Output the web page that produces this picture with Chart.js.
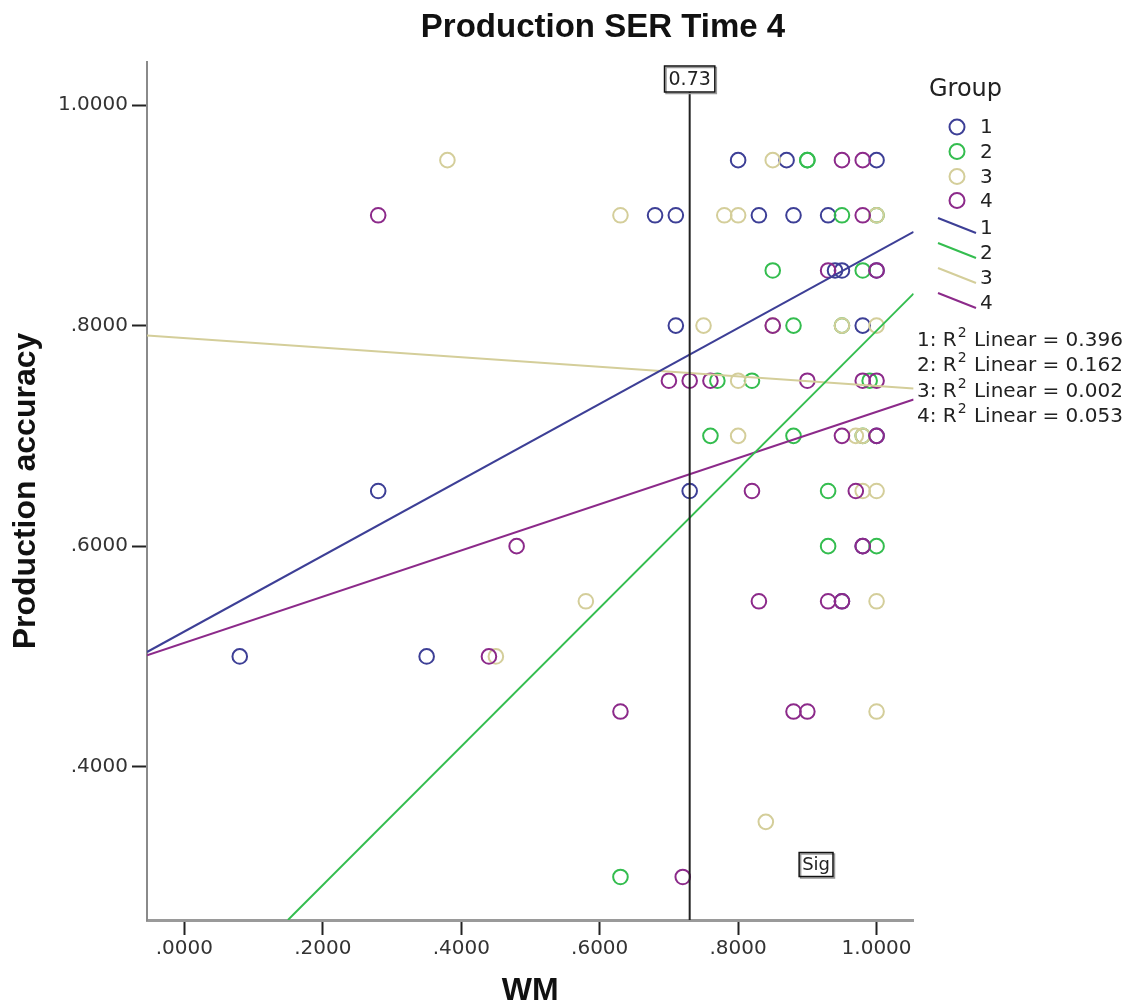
<!DOCTYPE html>
<html><head><meta charset="utf-8">
<script src="https://cdn.jsdelivr.net/npm/chart.js@4"></script>
<style>html,body{margin:0;padding:0;background:#fff}canvas{display:block}</style>
</head><body>
<canvas id="c" width="1139" height="1008"></canvas>
<script>
// ---- text ----
const chartTitle = 'Production SER Time 4';
const xAxisTitle = 'WM';
const yAxisTitle = 'Production accuracy';
const legendTitle = 'Group';
const groupNames = ['1', '2', '3', '4'];
const rSquared = ['0.396', '0.162', '0.002', '0.053'];
const xTickValues = [0, 0.2, 0.4, 0.6, 0.8, 1.0];
const xTickLabels = ['.0000', '.2000', '.4000', '.6000', '.8000', '1.0000'];
const yTickValues = [0.4, 0.6, 0.8, 1.0];
const yTickLabels = ['.4000', '.6000', '.8000', '1.0000'];
const refLineX = 0.73;
const refLineLabel = '0.73';
const sigLabel = 'Sig';
const sigX = 0.9126, sigY = 0.3113;

// ---- points (WM, accuracy) by group ----
const g1X = [0.80,0.87,1.00, 0.68,0.71,0.83,0.88,0.93, 0.94,0.95,1.00, 0.71,0.98, 1.00, 0.28,0.73, 0.98, 0.95, 0.08,0.35];
const g1Y = [0.95,0.95,0.95, 0.90,0.90,0.90,0.90,0.90, 0.85,0.85,0.85, 0.80,0.80, 0.70, 0.65,0.65, 0.60, 0.55, 0.50,0.50];

const g2X = [0.90,0.90, 0.95,1.00, 0.85,0.98, 0.88,0.95, 0.77,0.82,0.99, 0.76,0.88,0.98, 0.93, 0.93,1.00, 0.63];
const g2Y = [0.95,0.95, 0.90,0.90, 0.85,0.85, 0.80,0.80, 0.75,0.75,0.75, 0.70,0.70,0.70, 0.65, 0.60,0.60, 0.30];

const g3X = [0.38,0.85, 0.63,0.78,0.80,1.00, 0.75,0.85,0.95,1.00, 0.80, 0.80,0.97,0.98, 0.98,1.00, 0.58,1.00, 0.45, 1.00, 0.84];
const g3Y = [0.95,0.95, 0.90,0.90,0.90,0.90, 0.80,0.80,0.80,0.80, 0.75, 0.70,0.70,0.70, 0.65,0.65, 0.55,0.55, 0.50, 0.45, 0.35];

const g4X = [0.95,0.98, 0.28,0.98, 0.93,1.00, 0.85, 0.70,0.73,0.76,0.90,0.98,1.00, 0.95,1.00, 0.82,0.97, 0.48,0.98, 0.83,0.93,0.95, 0.44, 0.63,0.88,0.90, 0.72];
const g4Y = [0.95,0.95, 0.90,0.90, 0.85,0.85, 0.80, 0.75,0.75,0.75,0.75,0.75,0.75, 0.70,0.70, 0.65,0.65, 0.60,0.60, 0.55,0.55,0.55, 0.50, 0.45,0.45,0.45, 0.30];

// ---- linear fit lines (endpoints) ----
const fit1X = [-0.054, 1.0535], fit1Y = [0.504, 0.885];
const fit2X = [0.1496, 1.0535], fit2Y = [0.261, 0.829];
const fit3X = [-0.054, 1.0535], fit3Y = [0.791, 0.743];
const fit4X = [-0.054, 1.0535], fit4Y = [0.501, 0.733];

const colors = ['#3d3f96', '#34bd4f', '#d4ce9a', '#8c2a8a'];

const pts = (xs, ys) => xs.map((v, i) => ({x: v, y: ys[i]}));
const groupsX = [g1X, g2X, g3X, g4X], groupsY = [g1Y, g2Y, g3Y, g4Y];
const fitsX = [fit1X, fit2X, fit3X, fit4X], fitsY = [fit1Y, fit2Y, fit3Y, fit4Y];

const datasets = [];
for (let i = 0; i < 4; i++) {
  datasets.push({
    type: 'line', label: 'fit ' + groupNames[i], data: pts(fitsX[i], fitsY[i]),
    borderColor: colors[i], borderWidth: 2, pointRadius: 0, fill: false, clip: 0, order: 0
  });
}
for (let i = 0; i < 4; i++) {
  datasets.push({
    type: 'scatter', label: groupNames[i], data: pts(groupsX[i], groupsY[i]),
    borderColor: colors[i], backgroundColor: 'rgba(0,0,0,0)', pointRadius: 7.3, pointBorderWidth: 2,
    pointHoverRadius: 7.3, order: 4 - i + 1
  });
}

const FONT = 'DejaVu Sans';

const decor = {
  id: 'decor',
  afterDatasetsDraw(chart) {
    const {ctx, chartArea, scales: {x, y}} = chart;
    ctx.save();
    const rx = x.getPixelForValue(refLineX);
    ctx.strokeStyle = '#222'; ctx.lineWidth = 2;
    ctx.beginPath(); ctx.moveTo(rx, chartArea.top + 30); ctx.lineTo(rx, chartArea.bottom); ctx.stroke();
    ctx.font = '19px "' + FONT + '"';
    let w = ctx.measureText(refLineLabel).width + 8;
    let bx = rx - w / 2, by = chartArea.top + 4, bh = 26;
    ctx.fillStyle = '#fff'; ctx.fillRect(bx, by, w, bh);
    ctx.strokeStyle = '#999'; ctx.lineWidth = 1.5; ctx.strokeRect(bx + 1.5, by + 1.5, w, bh);
    ctx.strokeStyle = '#111'; ctx.lineWidth = 1.5; ctx.strokeRect(bx, by, w, bh);
    ctx.fillStyle = '#222'; ctx.textAlign = 'center'; ctx.textBaseline = 'middle';
    ctx.fillText(refLineLabel, rx, by + bh / 2 + 1);
    const sx = x.getPixelForValue(sigX), sy = y.getPixelForValue(sigY);
    ctx.font = '18px "' + FONT + '"';
    w = ctx.measureText(sigLabel).width + 6; bh = 24;
    bx = sx - w / 2; by = sy - bh / 2;
    ctx.fillStyle = '#fff'; ctx.fillRect(bx, by, w, bh);
    ctx.strokeStyle = '#999'; ctx.lineWidth = 1.5; ctx.strokeRect(bx + 1.5, by + 1.5, w, bh);
    ctx.strokeStyle = '#111'; ctx.lineWidth = 1.5; ctx.strokeRect(bx, by, w, bh);
    ctx.fillStyle = '#222'; ctx.fillText(sigLabel, sx, sy + 1);
    ctx.restore();
  },
  afterDraw(chart) {
    const {ctx} = chart;
    ctx.save();
    ctx.fillStyle = '#111'; ctx.textAlign = 'center'; ctx.textBaseline = 'alphabetic';
    ctx.font = 'bold 33px "Liberation Sans"';
    ctx.fillText(chartTitle, 603, 37);
    ctx.textAlign = 'left'; ctx.textBaseline = 'middle';
    ctx.font = '24px "' + FONT + '"';
    ctx.fillStyle = '#222';
    ctx.fillText(legendTitle, 929, 90);
    ctx.font = '20px "' + FONT + '"';
    const circY = [127, 151.5, 176.5, 200.5];
    for (let i = 0; i < 4; i++) {
      ctx.strokeStyle = colors[i]; ctx.lineWidth = 2;
      ctx.beginPath(); ctx.arc(957, circY[i], 7.5, 0, Math.PI * 2); ctx.stroke();
      ctx.fillStyle = '#222'; ctx.fillText(groupNames[i], 980, circY[i] + 1);
    }
    const lineY = [228, 253, 278, 303];
    for (let i = 0; i < 4; i++) {
      ctx.strokeStyle = colors[i]; ctx.lineWidth = 2;
      ctx.beginPath(); ctx.moveTo(938, lineY[i] - 10); ctx.lineTo(976, lineY[i] + 5); ctx.stroke();
      ctx.fillStyle = '#222'; ctx.fillText(groupNames[i], 980, lineY[i] + 1);
    }
    const rY = [341, 366, 392, 417];
    for (let i = 0; i < 4; i++) {
      let tx = 917;
      ctx.font = '20px "' + FONT + '"';
      const a = groupNames[i] + ': R';
      ctx.fillText(a, tx, rY[i]); tx += ctx.measureText(a).width + 1;
      ctx.font = '14px "' + FONT + '"';
      ctx.fillText('2', tx, rY[i] - 8); tx += ctx.measureText('2').width + 1;
      ctx.font = '20px "' + FONT + '"';
      ctx.fillText(' Linear = ' + rSquared[i], tx, rY[i]);
    }
    ctx.restore();
  }
};

new Chart(document.getElementById('c'), {
  data: {datasets},
  options: {
    responsive: false, animation: false, devicePixelRatio: 1,
    layout: {padding: {top: 62, right: 225.4, bottom: 0, left: 0}},
    plugins: {legend: {display: false}, tooltip: {enabled: false}, title: {display: false}},
    scales: {
      x: {
        type: 'linear', position: 'bottom', min: -0.054, max: 1.0535,
        afterBuildTicks: s => { s.ticks = xTickValues.map(v => ({value: v})); },
        afterFit: s => { s.height = 88; },
        ticks: {callback: (v, i) => xTickLabels[i], font: {family: FONT, size: 20}, color: '#333', padding: 2, maxRotation: 0, autoSkip: false},
        grid: {drawOnChartArea: false, drawTicks: true, tickLength: 15, tickColor: '#222', tickWidth: 2},
        border: {display: true, color: '#9a9a9a', width: 3},
        title: {display: true, text: xAxisTitle, color: '#111', font: {family: 'Liberation Sans', size: 32, weight: 'bold', lineHeight: 1}, padding: {top: 0, bottom: 1}}
      },
      y: {
        type: 'linear', position: 'left', min: 0.261, max: 1.039,
        afterBuildTicks: s => { s.ticks = yTickValues.map(v => ({value: v})); },
        afterFit: s => { s.width = 147; },
        ticks: {callback: (v, i) => yTickLabels[i], font: {family: FONT, size: 20}, color: '#333', padding: 4, autoSkip: false},
        grid: {drawOnChartArea: false, drawTicks: true, tickLength: 15, tickColor: '#222', tickWidth: 2},
        border: {display: true, color: '#8a8a8a', width: 2},
        title: {display: true, text: yAxisTitle, color: '#111', font: {family: 'Liberation Sans', size: 32, weight: 'bold', lineHeight: 1}, padding: {top: 10, bottom: 0}}
      }
    }
  },
  plugins: [decor]
});
</script>
</body></html>
